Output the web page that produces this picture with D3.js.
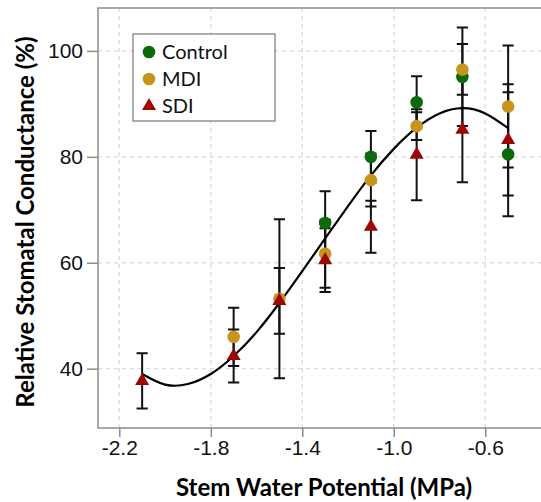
<!DOCTYPE html>
<html>
<head>
<meta charset="utf-8">
<script src="https://cdn.jsdelivr.net/npm/d3@7"></script>
<style>
  body { margin: 0; background: #fff; }
  svg { display: block; font-family: Lato, "Open Sans", sans-serif; }
  .grid line { stroke: #dcdcdc; stroke-dasharray: 4,4; stroke-width: 1.3; }
  .axis path { display: none; }
  .axis line { stroke: #8c8c8c; stroke-width: 1.5; }
  .axis text { fill: #111; font-size: 21px; }
</style>
</head>
<body>
<div id="chart"></div>
<script>
// stem water potential (MPa) for each sampling point
var potentials = [-2.1, -1.7, -1.5, -1.3, -1.1, -0.9, -0.7, -0.5];

// relative stomatal conductance (%) and error, null where not plotted
var controlMean = [null, null, null, 67.5, 80.0, 90.3, 95.1, 80.5];
var controlErr  = [null, null, null, 6.0, 4.9, 4.9, 9.3, 11.7];
var mdiMean = [null, 46.0, 53.2, 61.7, 75.6, 85.8, 96.5, 89.5];
var mdiErr  = [null, 5.5, 15.0, 6.4, 5.0, 2.6, 4.8, 11.5];
var sdiMean = [37.7, 42.4, 52.8, 60.5, 66.8, 80.4, 85.1, 83.2];
var sdiErr  = [5.2, 5.0, 6.2, 6.0, 4.9, 8.6, 9.9, 10.5];

// fitted curve
var fitX = [-2.1, -2.0, -1.9, -1.8, -1.7, -1.6, -1.5, -1.4, -1.3, -1.2, -1.1, -1.0, -0.9, -0.8, -0.7, -0.6, -0.5];
var fitY = [39.0, 37.0, 37.1, 39.0, 42.4, 46.9, 52.4, 58.4, 64.6, 70.7, 76.5, 81.5, 85.5, 88.2, 89.2, 88.2, 85.4];

var xTicks = [-2.2, -1.8, -1.4, -1.0, -0.6];
var yTicks = [40, 60, 80, 100];

var seriesNames = ['Control', 'MDI', 'SDI'];
var seriesColors = ['#0a6b0a', '#c9941b', '#9e0606'];

var width = 541, height = 502;

var svg = d3.select('#chart').append('svg')
  .attr('width', width)
  .attr('height', height);

var x = d3.scaleLinear().domain([-2.293, -0.317]).range([98, 550]);
var y = d3.scaleLinear().domain([28.8, 108.1]).range([428, 8]);

// grid
var grid = svg.append('g').attr('class', 'grid');
grid.selectAll('.vx').data(xTicks).enter().append('line')
  .attr('x1', function(d){ return x(d); })
  .attr('x2', function(d){ return x(d); })
  .attr('y1', y.range()[1]).attr('y2', y.range()[0]);
grid.selectAll('.hy').data(yTicks).enter().append('line')
  .attr('x1', x.range()[0]).attr('x2', x.range()[1])
  .attr('y1', function(d){ return y(d); })
  .attr('y2', function(d){ return y(d); });

// axes
svg.append('g')
  .attr('class', 'axis')
  .attr('transform', 'translate(98,0)')
  .call(d3.axisLeft(y).tickValues(yTicks).tickSize(11).tickPadding(4).tickFormat(d3.format('d')));

svg.append('g')
  .attr('class', 'axis')
  .attr('transform', 'translate(0,428)')
  .call(d3.axisBottom(x).tickValues(xTicks).tickSize(9).tickPadding(3).tickFormat(d3.format('.1f')))
  .selectAll('text').text(function(d){ return d3.format('.1f')(d).replace('−', '-'); });

// frame (right side runs off the picture)
svg.append('path')
  .attr('d', 'M' + x.range()[1] + ',' + y.range()[1] + 'H98V428H' + x.range()[1])
  .attr('fill', 'none')
  .attr('stroke', '#8c8c8c')
  .attr('stroke-width', 1.5);

// collect points per series
var means = [controlMean, mdiMean, sdiMean];
var errs = [controlErr, mdiErr, sdiErr];
var points = [];
means.forEach(function(arr, s){
  arr.forEach(function(v, i){
    if (v !== null) points.push({ s: s, x: potentials[i], y: v, e: errs[s][i] });
  });
});

// error bars
var bars = svg.append('g')
  .attr('stroke', '#111')
  .attr('stroke-width', 2)
  .attr('fill', 'none');
bars.selectAll('path').data(points).enter().append('path')
  .attr('d', function(d){
    var cx = x(d.x), lo = y(d.y - d.e), hi = y(d.y + d.e), w = 5.6;
    return 'M' + cx + ',' + lo + 'V' + hi +
      'M' + (cx - w) + ',' + hi + 'H' + (cx + w) +
      'M' + (cx - w) + ',' + lo + 'H' + (cx + w);
  });

// fitted curve
var line = d3.line()
  .x(function(d){ return x(d[0]); })
  .y(function(d){ return y(d[1]); })
  .curve(d3.curveNatural);

svg.append('path')
  .datum(d3.zip(fitX, fitY))
  .attr('d', line)
  .attr('fill', 'none')
  .attr('stroke', '#000')
  .attr('stroke-width', 2.2);

// markers
var triangle = d3.symbol().type(d3.symbolTriangle).size(85);
var circle = d3.symbol().type(d3.symbolCircle).size(Math.PI * 6.3 * 6.3);
svg.append('g').selectAll('.pt').data(points).enter().append('path')
  .attr('transform', function(d){ return 'translate(' + x(d.x) + ',' + y(d.y) + ')'; })
  .attr('d', function(d){ return d.s === 2 ? triangle() : circle(); })
  .attr('fill', function(d){ return seriesColors[d.s]; });

// legend
var legend = svg.append('g').attr('transform', 'translate(133,34)');
legend.append('rect')
  .attr('width', 142).attr('height', 87)
  .attr('fill', '#fff')
  .attr('stroke', '#777')
  .attr('stroke-width', 1.2);
seriesNames.forEach(function(name, i){
  var row = legend.append('g').attr('transform', 'translate(16,' + (18 + i * 27) + ')');
  row.append('path')
    .attr('d', i === 2 ? triangle() : circle())
    .attr('fill', seriesColors[i]);
  row.append('text')
    .attr('x', 13).attr('y', 7)
    .style('font-size', '20px')
    .attr('fill', '#111')
    .text(name);
});

// axis titles
svg.append('text')
  .attr('x', 324).attr('y', 496)
  .attr('text-anchor', 'middle')
  .style('font-size', '24px')
  .style('font-weight', 'bold')
  .text('Stem Water Potential (MPa)');

svg.append('text')
  .attr('transform', 'translate(34,222) rotate(-90)')
  .attr('text-anchor', 'middle')
  .style('font-size', '24px')
  .style('font-weight', 'bold')
  .text('Relative Stomatal Conductance (%)');
</script>
</body>
</html>
